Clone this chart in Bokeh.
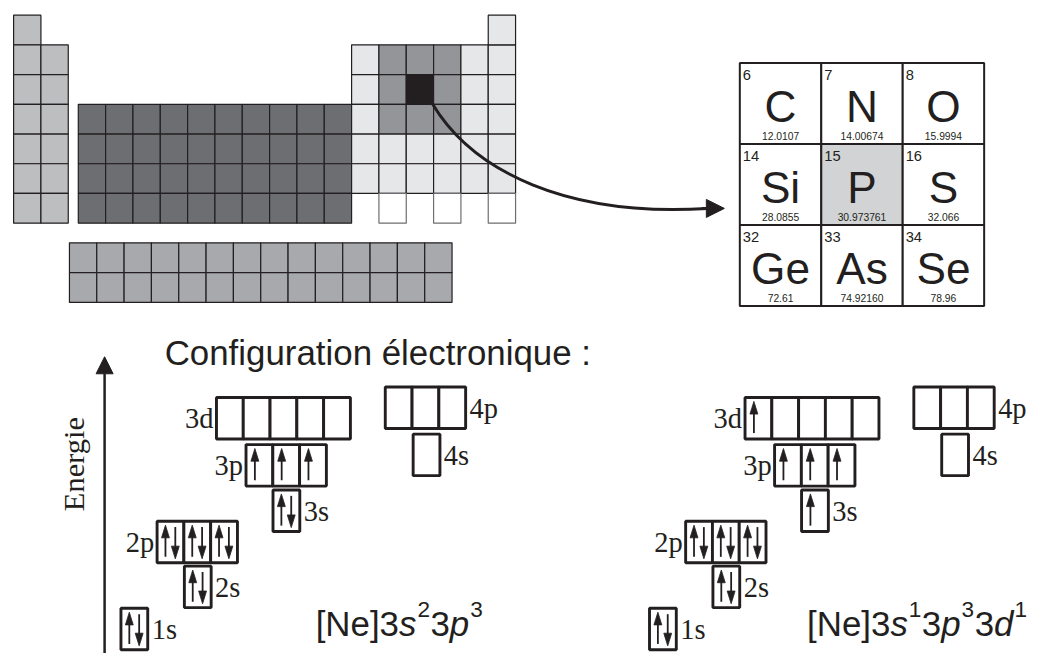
import numpy as np
from bokeh.plotting import figure
from bokeh.models import Range1d, Arrow, NormalHead
from bokeh.embed import file_html
from bokeh.resources import INLINE
from bokeh.core.properties import value

# ---------------- data ----------------
# periodic table blocks (period numbers / group numbers)
group1_periods = [1, 2, 3, 4, 5, 6, 7]
group2_periods = [2, 3, 4, 5, 6, 7]
d_block_groups = [3, 4, 5, 6, 7, 8, 9, 10, 11, 12]
d_block_periods = [4, 5, 6, 7]
p_block_groups = [13, 14, 15, 16, 17, 18]
p_block_periods = [2, 3, 4, 5, 6]
period1_p_groups = [18]
period7_p_groups = [14, 16, 18]
highlight_cells = [(2, 14), (2, 15), (2, 16), (3, 14), (3, 16), (4, 14), (4, 15), (4, 16)]
selected_cell = (3, 15)
f_block_rows = [1, 2]
f_block_cols = list(range(1, 15))

# zoomed element table
elem_numbers = ["6", "7", "8", "14", "15", "16", "32", "33", "34"]
elem_symbols = ["C", "N", "O", "Si", "P", "S", "Ge", "As", "Se"]
elem_masses = ["12.0107", "14.00674", "15.9994", "28.0855", "30.973761",
               "32.066", "72.61", "74.92160", "78.96"]
elem_selected = [False, False, False, False, True, False, False, False, False]

# orbital occupancies
orbital_names = ["1s", "2s", "2p", "3s", "3p", "3d", "4s", "4p"]
ground_state = [[2], [2], [2, 2, 2], [2], [1, 1, 1], [0, 0, 0, 0, 0], [0], [0, 0, 0]]
excited_state = [[2], [2], [2, 2, 2], [1], [1, 1, 1], [1, 0, 0, 0, 0], [0], [0, 0, 0]]

# texts
title_text = "Configuration électronique :"
axis_text = "Energie"
ground_formula = [("[Ne]3", "n"), ("s", "i"), ("2", "sup"), ("3", "n"), ("p", "i"), ("3", "sup")]
excited_formula = [("[Ne]3", "n"), ("s", "i"), ("1", "sup"), ("3", "n"), ("p", "i"), ("3", "sup"),
                   ("3", "n"), ("d", "i"), ("1", "sup")]

# ---------------- layout / style ----------------
INK = "#231f20"
S_COLOR, D_COLOR, F_COLOR = "#bcbec0", "#6d6e71", "#a7a9ac"
P_COLOR, HL_COLOR = "#e6e7e8", "#939598"
SANS = value("Liberation Sans")
SERIF = value("Liberation Serif")

W_PX, H_PX = 1039, 653
XR, YR = 1055.0, 669.0
KY = YR / H_PX          # data units per pixel (vertical)
KX = XR / W_PX
FS = 0.982              # font scale

p = figure(width=W_PX, height=H_PX, x_range=Range1d(0, XR), y_range=Range1d(YR, 0),
           output_backend="svg", toolbar_location=None, min_border=0,
           x_axis_location=None, y_axis_location=None)
p.grid.visible = False
p.outline_line_color = None
p.background_fill_color = "white"
p.border_fill_color = "white"


def fpx(size):
    return f"{size * FS:.2f}px"


def mid(baseline, size, k=0.345):
    # centre of the em box above an alphabetic baseline (data units)
    return baseline - k * size * FS * KY


CW, CH = 27.75, 30.45
TOP0 = 15.0


def gx(g):
    if g == 1:
        return 13.3
    if g == 2:
        return 13.3 + CW
    if g <= 12:
        return 79.0 + (g - 3) * CW
    return 79.0 + 10 * CW + (g - 13) * CW


def py(per):
    return TOP0 + (per - 1) * CH


cells = {"l": [], "r": [], "t": [], "b": [], "c": [], "lc": []}


def add_cell(g, per, color, lc=INK):
    cells["l"].append(gx(g)); cells["r"].append(gx(g) + CW)
    cells["t"].append(py(per)); cells["b"].append(py(per) + CH)
    cells["c"].append(color); cells["lc"].append(lc)


for per in group1_periods:
    add_cell(1, per, S_COLOR)
for per in group2_periods:
    add_cell(2, per, S_COLOR)
for per in d_block_periods:
    for g in d_block_groups:
        add_cell(g, per, D_COLOR)
for per in p_block_periods:
    for g in p_block_groups:
        if (per, g) == selected_cell:
            col = INK
        elif (per, g) in highlight_cells:
            col = HL_COLOR
        else:
            col = P_COLOR
        add_cell(g, per, col)
for g in period1_p_groups:
    add_cell(g, 1, P_COLOR)
for g in period7_p_groups:
    add_cell(g, 7, "white", "#6d6e71")

p.quad(left=cells["l"], right=cells["r"], top=cells["t"], bottom=cells["b"],
       fill_color=cells["c"], line_color=cells["lc"], line_width=1.2)

# f-block
FX0, FY0, FH = 70.0, 248.3, 30.5
fl, fr, ft, fb = [], [], [], []
for r in f_block_rows:
    for c in f_block_cols:
        fl.append(FX0 + (c - 1) * CW); fr.append(FX0 + c * CW)
        ft.append(FY0 + (r - 1) * FH); fb.append(FY0 + r * FH)
p.quad(left=fl, right=fr, top=ft, bottom=fb, fill_color=F_COLOR, line_color=INK, line_width=1.2)

# curved arrow from P to the zoomed table
p.bezier(x0=[439], y0=[106.5], x1=[718], y1=[213], cx0=[480], cy0=[175], cx1=[575], cy1=[222],
         line_color=INK, line_width=3)
p.add_layout(Arrow(end=NormalHead(size=18, fill_color=INK, line_color=INK, line_width=1),
                   x_start=712, y_start=213, x_end=735, y_end=213,
                   line_color=INK, line_width=3))

# zoomed element table
EX0, EY0, EW, EH = 750.7, 64.0, 82.7, 83.0
NUM_F, SYM_F, MASS_F = 15, 45, 10.5
el, er, et, eb, ec = [], [], [], [], []
nx, ny, sx, sy, mx, my = [], [], [], [], [], []
for k in range(len(elem_symbols)):
    r, c = divmod(k, 3)
    L = EX0 + c * EW
    T = EY0 + r * EH
    el.append(L); er.append(L + EW); et.append(T); eb.append(T + EH)
    ec.append("#d1d3d4" if elem_selected[k] else "white")
    nx.append(L + 3); ny.append(mid(T + 17.5, NUM_F))
    sx.append(L + EW / 2); sy.append(mid(T + 60, SYM_F))
    mx.append(L + EW / 2); my.append(mid(T + 78, MASS_F))
p.quad(left=el, right=er, top=et, bottom=eb, fill_color=ec, line_color=INK, line_width=2)
p.text(x=nx, y=ny, text=elem_numbers, text_font=SANS, text_font_size=fpx(NUM_F),
       text_align="left", text_baseline="middle", text_color=INK)
p.text(x=sx, y=sy, text=elem_symbols, text_font=SANS, text_font_size=fpx(SYM_F),
       text_align="center", text_baseline="middle", text_color=INK)
p.text(x=mx, y=my, text=elem_masses, text_font=SANS, text_font_size=fpx(MASS_F),
       text_align="center", text_baseline="middle", text_color=INK)

# title
TITLE_F = 35.5
p.text(x=[166.7], y=[mid(373.3, TITLE_F)], text=[title_text], text_font=SANS,
       text_font_size=fpx(TITLE_F), text_align="left", text_baseline="middle", text_color=INK)

# energy axis
p.add_layout(Arrow(end=NormalHead(size=17, fill_color=INK, line_color=INK, line_width=1),
                   x_start=105.7, y_start=680, x_end=105.7, y_end=365,
                   line_color=INK, line_width=2.5))
AXIS_F = 31
p.text(x=[85.0 - 0.34 * AXIS_F * FS], y=[475], text=[axis_text], angle=np.pi / 2, text_font=SERIF,
       text_font_size=fpx(AXIS_F), text_align="center", text_baseline="middle", text_color=INK)

# orbital diagrams
BW, BH = 27.2, 42.5
LAB_F = 29
orb_pos = {"1s": (122.3, 622.7, "R"), "2s": (186.7, 579.5, "R"), "2p": (159.0, 533.5, "L"),
           "3s": (276.7, 501.5, "R"), "3p": (249.3, 455.0, "L"), "3d": (219.3, 406.7, "L"),
           "4s": (419.0, 444.3, "R"), "4p": (390.7, 396.0, "R")}
DIAGRAM_DX = [0.0, 536.7]

bl, br, bt, bb = [], [], [], []
lab_l = {"x": [], "y": [], "t": []}
lab_r = {"x": [], "y": [], "t": []}
sx0, sy0, sx1, sy1 = [], [], [], []
hx, hy = [], []
HL, HW = 13.0, 4.0


def arrow(x, tail, tip):
    d = 1 if tip > tail else -1
    sx0.append(x); sx1.append(x); sy0.append(tail); sy1.append(tip - d * (HL - 2))
    hx.append([x, x - HW, x + HW]); hy.append([tip, tip - d * HL, tip - d * HL])


for dx, state in zip(DIAGRAM_DX, [ground_state, excited_state]):
    for name, occ in zip(orbital_names, state):
        x0, y0, side = orb_pos[name]
        x0 += dx
        for i, n in enumerate(occ):
            L = x0 + i * BW
            bl.append(L); br.append(L + BW); bt.append(y0); bb.append(y0 + BH)
            if n == 1:
                arrow(L + 9.0, y0 + BH - 6, y0 + 4)
            elif n == 2:
                arrow(L + 8.5, y0 + BH - 6, y0 + 4)
                arrow(L + 18.5, y0 + 6, y0 + BH - 4)
        ymid = mid(y0 + BH / 2 + 10.5, LAB_F, 0.34)
        if side == "L":
            lab_l["x"].append(x0 - 3); lab_l["y"].append(ymid); lab_l["t"].append(name)
        else:
            lab_r["x"].append(x0 + len(occ) * BW + 4); lab_r["y"].append(ymid); lab_r["t"].append(name)

p.quad(left=bl, right=br, top=bt, bottom=bb, fill_color="white", line_color=INK, line_width=2.9)
p.segment(x0=sx0, y0=sy0, x1=sx1, y1=sy1, line_color=INK, line_width=1.8)
p.patches(xs=hx, ys=hy, fill_color=INK, line_color=INK, line_width=0.8)
p.text(x=lab_l["x"], y=lab_l["y"], text=lab_l["t"], text_font=SERIF, text_font_size=fpx(LAB_F),
       text_align="right", text_baseline="middle", text_color=INK)
p.text(x=lab_r["x"], y=lab_r["y"], text=lab_r["t"], text_font=SERIF, text_font_size=fpx(LAB_F),
       text_align="left", text_baseline="middle", text_color=INK)

# formulas with superscripts (Arial / Liberation Sans advance widths, per 1000 em)
ADV = {"[": 278, "N": 722, "e": 556, "]": 278, "s": 500, "p": 556, "d": 556}
for ch in "0123456789":
    ADV[ch] = 556
F_MAIN, F_SUP, SUP_RAISE = 35.5, 23, 19


def draw_formula(x0, y0, runs):
    x = x0
    for txt, style in runs:
        size = F_SUP if style == "sup" else F_MAIN
        if style == "sup":
            x += 1.0
        base = y0 - SUP_RAISE if style == "sup" else y0
        p.text(x=[x], y=[mid(base, size)], text=[txt], text_font=SANS, text_font_size=fpx(size),
               text_font_style="italic" if style == "i" else "normal",
               text_align="left", text_baseline="middle", text_color=INK)
        x += sum(ADV[c] for c in txt) / 1000 * size * FS * KX
        if style == "sup":
            x += 0.5


draw_formula(320.0, 651.0, ground_formula)
draw_formula(819.0, 651.0, excited_formula)

open("out.html", "w").write(file_html(p, INLINE))
